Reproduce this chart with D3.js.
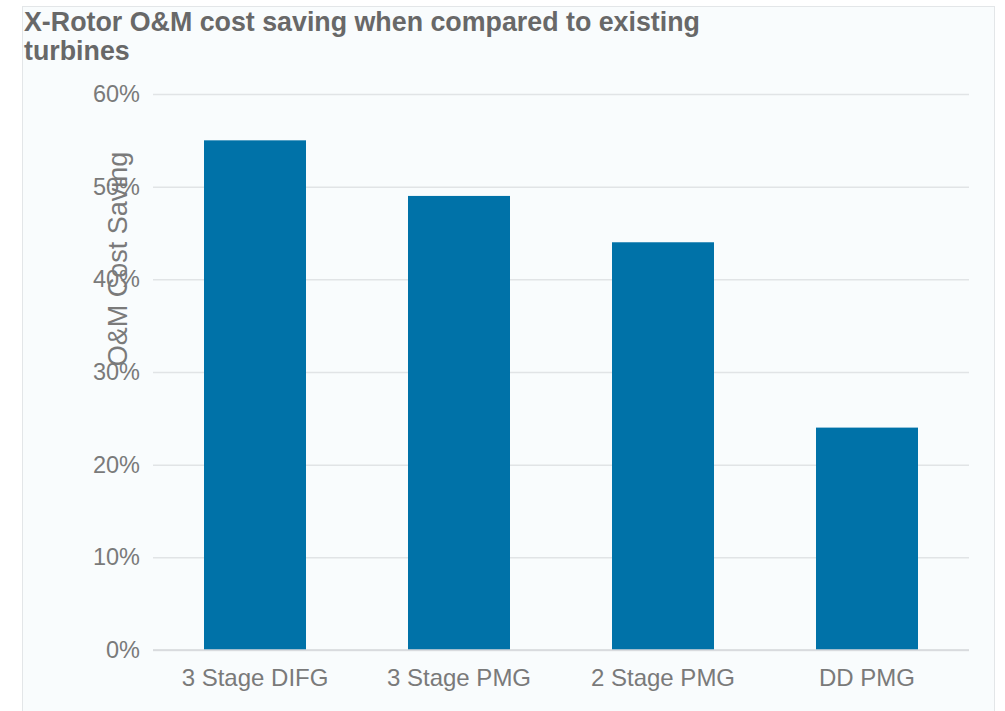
<!DOCTYPE html>
<html><head><meta charset="utf-8">
<script src="https://cdn.jsdelivr.net/npm/d3@7/dist/d3.min.js"></script>
<style>
html,body{margin:0;padding:0;background:#fff;}
svg{display:block;font-family:"Liberation Sans",Arial,sans-serif;}
</style></head>
<body><svg id="c" width="1005" height="711"></svg>
<script>
const categories = ["3 Stage DIFG","3 Stage PMG","2 Stage PMG","DD PMG"];
const values = [0.55, 0.49, 0.44, 0.24];
const yTicks = [0,0.1,0.2,0.3,0.4,0.5,0.6];
const titleLines = ["X-Rotor O&M cost saving when compared to existing","turbines"];
const yTitle = "O&M Cost Saving";

const svg = d3.select("#c");
// frame
svg.append("rect").attr("x",22.5).attr("y",6.5).attr("width",972).attr("height",720)
  .attr("fill","#f9fcfd").attr("stroke","#e3e6e8").attr("stroke-width",1);

const m = {l:153, r:969, t:94, b:650};
const x = d3.scaleBand().domain(categories).range([m.l,m.r]).paddingInner(0.5).paddingOuter(0.25);
const y = d3.scaleLinear().domain([0,0.6]).range([m.b,m.t]);
const txt = "#7a7a7a";

// gridlines
const yAxis = d3.axisLeft(y).tickValues(yTicks).tickFormat(d3.format(".0%")).tickSize(-(m.r-m.l)).tickPadding(13);
const gy = svg.append("g").attr("transform",`translate(${m.l},0)`).call(yAxis);
gy.select(".domain").remove();
gy.selectAll(".tick line").attr("stroke","#e1e4e6").attr("stroke-width",1.5);
gy.selectAll(".tick text").attr("fill",txt).attr("font-size","23.5px")
  .attr("font-family","'Liberation Sans',Arial,sans-serif");

// bars
svg.append("g").selectAll("rect").data(values).join("rect")
  .attr("x",(d,i)=>x(categories[i]))
  .attr("y",d=>y(d))
  .attr("width",x.bandwidth())
  .attr("height",d=>y(0)-y(d))
  .attr("fill","#0072a8");

// baseline
svg.append("line").attr("x1",m.l).attr("x2",m.r).attr("y1",y(0)).attr("y2",y(0))
  .attr("stroke","#d6d9db").attr("stroke-width",1.5);

// x axis
const gx = svg.append("g").attr("transform",`translate(0,${m.b})`).call(d3.axisBottom(x).tickSize(0).tickPadding(19));
gx.select(".domain").remove();
gx.selectAll(".tick text").attr("fill",txt).attr("font-size","24px")
  .attr("font-family","'Liberation Sans',Arial,sans-serif");

// y title
svg.append("text").attr("transform","translate(127,259) rotate(-90)")
  .attr("text-anchor","middle").attr("fill",txt).attr("font-size","27px").text(yTitle);

// title
svg.append("g").selectAll("text").data(titleLines).join("text")
  .attr("x",24).attr("y",(d,i)=>31+i*29)
  .attr("fill","#686868").attr("font-size","26.8px").attr("font-weight","bold").text(d=>d);
</script></body></html>
